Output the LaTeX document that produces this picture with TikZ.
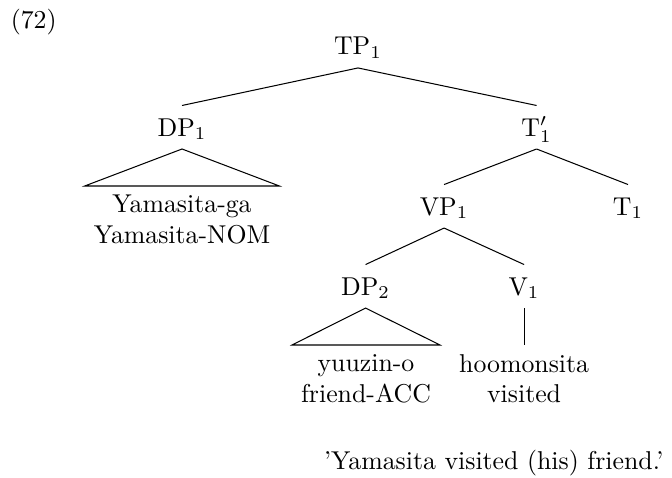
\documentclass[tikz,border=0pt]{standalone}
\usetikzlibrary{positioning}

\tikzset{
    phrase/.style={anchor=base, text height=8.3pt, text depth=1.5pt},
    leaf/.style={anchor=north, align=center},
}

\begin{document}
\begin{tikzpicture}
        \useasboundingbox (0,0) rectangle (9.155,-6.499);
        \node[anchor=base west, inner sep=0pt] (num) at (0.14,-0.395) {(72)};

        % Nudos
        \foreach \name/\x/\y/\lab in {
            tp/4.877/-0.749/TP$_1$,
            dpa/2.48/-1.853/DP$_1$,
            tbar/7.31/-1.853/T$'_1$,
            vp/6.05/-2.93/VP$_1$,
            t/8.556/-2.93/T$_1$,
            dpb/4.98/-4.02/DP$_2$,
            v/7.14/-4.02/V$_1$
            } {
            \node[phrase] (\name) at (\x,\y) {\lab};
        }

        % Hojas
        \node[leaf] (yam) at (2.48,-2.534) {Yamasita-ga\\Yamasita-NOM};
        \node[leaf] (yuu) at (4.986,-4.70) {yuuzin-o\\friend-ACC};
        \node[leaf] (hoo) at (7.14,-4.70) {hoomonsita\\visited};

        % Ramas
        \foreach \a/\b in {tp/dpa, tp/tbar, tbar/vp, tbar/t, vp/dpb, vp/v} {
            \draw (\a.south) -- (\b.north);
        }
        \draw (v.south) -- (hoo.north);
        \draw (dpa.south) -- (yam.north west) -- (yam.north east) -- cycle;
        \draw (dpb.south) -- (yuu.north west) -- (yuu.north east) -- cycle;

        \node[anchor=base west] (trad) at (4.29,-6.39) {'Yamasita visited (his) friend.'};
    \end{tikzpicture}
\end{document}
